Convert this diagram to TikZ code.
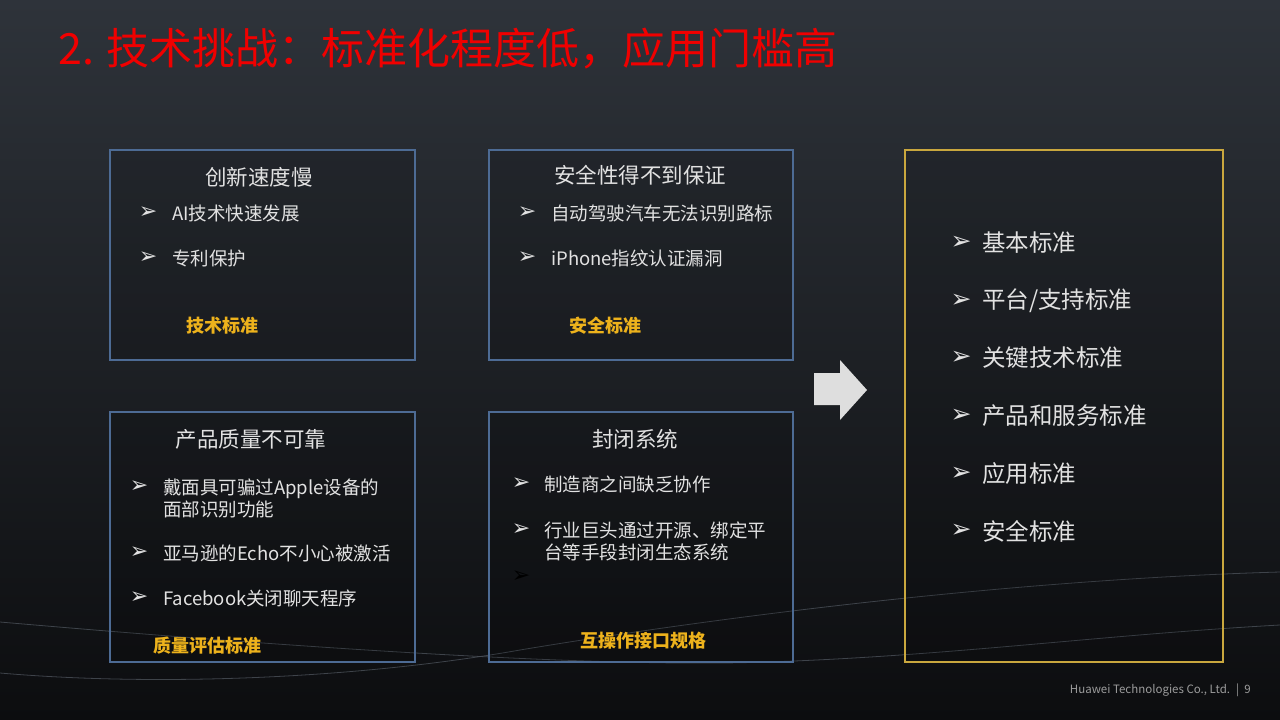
\documentclass[tikz,border=0pt]{standalone}
\usepackage{fontspec}
\setmainfont{Noto Sans CJK SC}
\newfontfamily\arrowfont{DejaVu Sans}
\usetikzlibrary{calc}
\definecolor{slidetop}{HTML}{2E333A}
\definecolor{slidebot}{HTML}{0C0D0F}
\definecolor{titlered}{HTML}{F00000}
\definecolor{boxblue}{HTML}{4D6B94}
\definecolor{boxgold}{HTML}{C9A73E}
\definecolor{labgold}{HTML}{EDB21C}
\definecolor{txtgray}{HTML}{E2E2E2}
\definecolor{arrgray}{HTML}{DEDEDE}
\definecolor{swoosh}{HTML}{4A5058}
\definecolor{footgray}{HTML}{9C9C9C}

\tikzset{
  pane/.style={draw=boxblue,line width=1.6pt,fill=black,fill opacity=0.12,inner sep=0},
  hdr/.style={text=txtgray,inner sep=0,font=\fontsize{21.5}{26}\selectfont},
  item/.style={text=txtgray,anchor=west,inner sep=0,align=left,font=\fontsize{18.5}{22}\selectfont},
  bul/.style={text=txtgray,inner sep=0,font=\arrowfont\fontsize{22}{24}\selectfont},
  lab/.style={text=labgold,anchor=west,inner sep=0,font=\bfseries\fontsize{18}{22}\selectfont},
}

\begin{document}
\begin{tikzpicture}[x=1pt,y=-1pt]
\useasboundingbox (0,0) rectangle (1280,720);
\shade[top color=slidetop,bottom color=slidebot] (0,0) rectangle (1280,720);
% faint background curves
\draw[swoosh,line width=0.8pt,opacity=0.8] (0,622) .. controls (300,648) and (600,668) .. (767,662) .. controls (950,656) and (1100,635) .. (1280,625);
\draw[swoosh,line width=0.8pt,opacity=0.8] (0,673) .. controls (150,686) and (350,680) .. (520,650) .. controls (700,620) and (1000,580) .. (1280,572);

\node[anchor=base west,inner sep=0,text=titlered,font=\fontsize{43}{48}\selectfont] (title) at (58,64) {2. 技术挑战：标准化程度低，应用门槛高};

% four challenge boxes
\node[pane,minimum width=305,minimum height=210] (slow) at (262.5,255) {};
\node[pane,minimum width=304,minimum height=210] (safe) at (641,255) {};
\node[pane,minimum width=305,minimum height=250] (qual) at (262.5,537) {};
\node[pane,minimum width=304,minimum height=250] (closed) at (641,537) {};
\node[draw=boxgold,line width=1.4pt,fill=black,fill opacity=0.12,inner sep=0,minimum width=318,minimum height=512] (std) at (1064,406) {};

% box 1
\node[hdr] (slow-h) at (259,177) {创新速度慢};
\node[bul] (slow-b1) at (148,213) {➢};
\node[item] (slow-t1) at (172,213) {AI技术快速发展};
\node[bul] (slow-b2) at (148,258) {➢};
\node[item] (slow-t2) at (172,258) {专利保护};
\node[lab] (slow-l) at (186,326) {技术标准};

% box 2
\node[hdr] (safe-h) at (640,175) {安全性得不到保证};
\node[bul] (safe-b1) at (527,213) {➢};
\node[item] (safe-t1) at (551,213) {自动驾驶汽车无法识别路标};
\node[bul] (safe-b2) at (527,258) {➢};
\node[item] (safe-t2) at (551,258) {iPhone指纹认证漏洞};
\node[lab] (safe-l) at (569,326) {安全标准};

% box 3
\node[hdr] (qual-h) at (251,439) {产品质量不可靠};
\node[bul] (qual-b1) at (139,487) {➢};
\node[item] (qual-t1) at (163,498) {戴面具可骗过Apple设备的\\面部识别功能};
\node[bul] (qual-b2) at (139,553) {➢};
\node[item] (qual-t2) at (163,553) {亚马逊的Echo不小心被激活};
\node[bul] (qual-b3) at (139,598) {➢};
\node[item] (qual-t3) at (163,598) {Facebook关闭聊天程序};
\node[lab] (qual-l) at (153,646) {质量评估标准};

% box 4
\node[hdr] (closed-h) at (635,439) {封闭系统};
\node[bul] (closed-b1) at (521,484) {➢};
\node[item] (closed-t1) at (544,484) {制造商之间缺乏协作};
\node[bul] (closed-b2) at (521,530) {➢};
\node[item] (closed-t2) at (544,541) {行业巨头通过开源、绑定平\\台等手段封闭生态系统};
\node[bul,text=black] (closed-b3) at (521,577) {➢};
\node[lab] (closed-l) at (580,641) {互操作接口规格};

% block arrow
\fill[arrgray] (814,373) -- (840,373) -- (840,360) -- (867,390) -- (840,420) -- (840,405) -- (814,405) -- cycle;

% standards list
\foreach \y/\txt [count=\i] in {243/基本标准,301/{平台/支持标准},358/关键技术标准,416/产品和服务标准,474/应用标准,531/安全标准}{
  \node[bul,font=\arrowfont\fontsize{25}{28}\selectfont] (std-b\i) at (961,\y) {➢};
  \node[item,font=\fontsize{23.5}{28}\selectfont] (std-t\i) at (982,\y) {\txt};}

\node[anchor=east,inner sep=0,text=footgray,font=\fontsize{11.5}{13}\selectfont] (foot) at (1251,690) {Huawei Technologies Co., Ltd. \ |\ \ 9};
\end{tikzpicture}
\end{document}
